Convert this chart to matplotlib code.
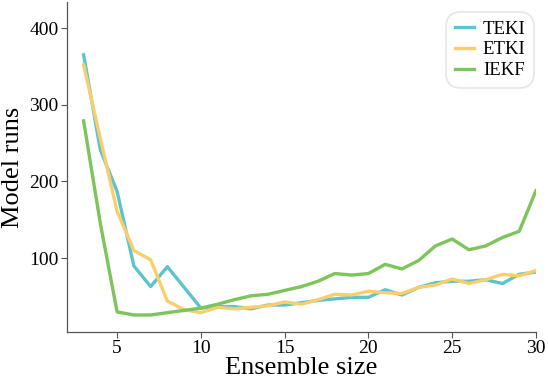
import matplotlib
matplotlib.use('Agg')
import matplotlib.pyplot as plt

# Ensemble sizes and number of model runs per method
ensemble_size = list(range(3, 31))

teki_runs = [365, 241, 187, 90, 63, 89, 62, 35, 37, 37, 34, 39, 39, 42, 45, 47,
             49, 49, 59, 52, 62, 68, 70, 70, 72, 67, 79, 82]
etki_runs = [352, 256, 161, 110, 98, 44, 33, 29, 36, 34, 36, 38, 43, 40, 46, 53,
             52, 57, 55, 54, 62, 65, 73, 67, 72, 79, 77, 84]
iekf_runs = [279, 145, 30, 26, 26, 29, 32, 35, 40, 46, 51, 53, 58, 63, 70, 80,
             78, 80, 92, 86, 97, 116, 125, 111, 116, 127, 135, 188]

series_names = ['TEKI', 'ETKI', 'IEKF']
series_colors = ['#5ec4cc', '#f8cf6c', '#7dc45a']

plt.rcParams['font.family'] = ['Liberation Serif', 'DejaVu Serif']

fig = plt.figure(figsize=(5.48, 3.85), dpi=100)
ax = fig.add_axes([0.122, 0.138, 0.856, 0.857])

for values, name, color in zip([teki_runs, etki_runs, iekf_runs], series_names, series_colors):
    ax.plot(ensemble_size, values, color=color, lw=2.4, label=name)

ax.set_xlim(2, 30)
ax.set_ylim(4, 434)
ax.set_xticks([5, 10, 15, 20, 25, 30])
ax.set_yticks([100, 200, 300, 400])
ax.tick_params(labelsize=14, length=4, width=0.8, color='#555555', pad=2)

ax.spines['top'].set_visible(False)
ax.spines['right'].set_visible(False)
for side in ['left', 'bottom']:
    ax.spines[side].set_color('#555555')
    ax.spines[side].set_linewidth(0.9)

ax.set_xlabel('Ensemble size', fontsize=19, labelpad=0)
ax.set_ylabel('Model runs', fontsize=19, labelpad=4)

leg = ax.legend(loc='upper right', fontsize=13.5, frameon=True, fancybox=True,
                handlelength=1.05, handletextpad=0.45, borderpad=0.45,
                labelspacing=0.2, borderaxespad=0.1,
                bbox_to_anchor=(1.0, 0.975))
leg.get_frame().set_edgecolor('#e0e0e0')
leg.get_frame().set_linewidth(1.2)
leg.get_frame().set_boxstyle('round', pad=0, rounding_size=0.8)

fig.savefig('out.png', dpi=100)
